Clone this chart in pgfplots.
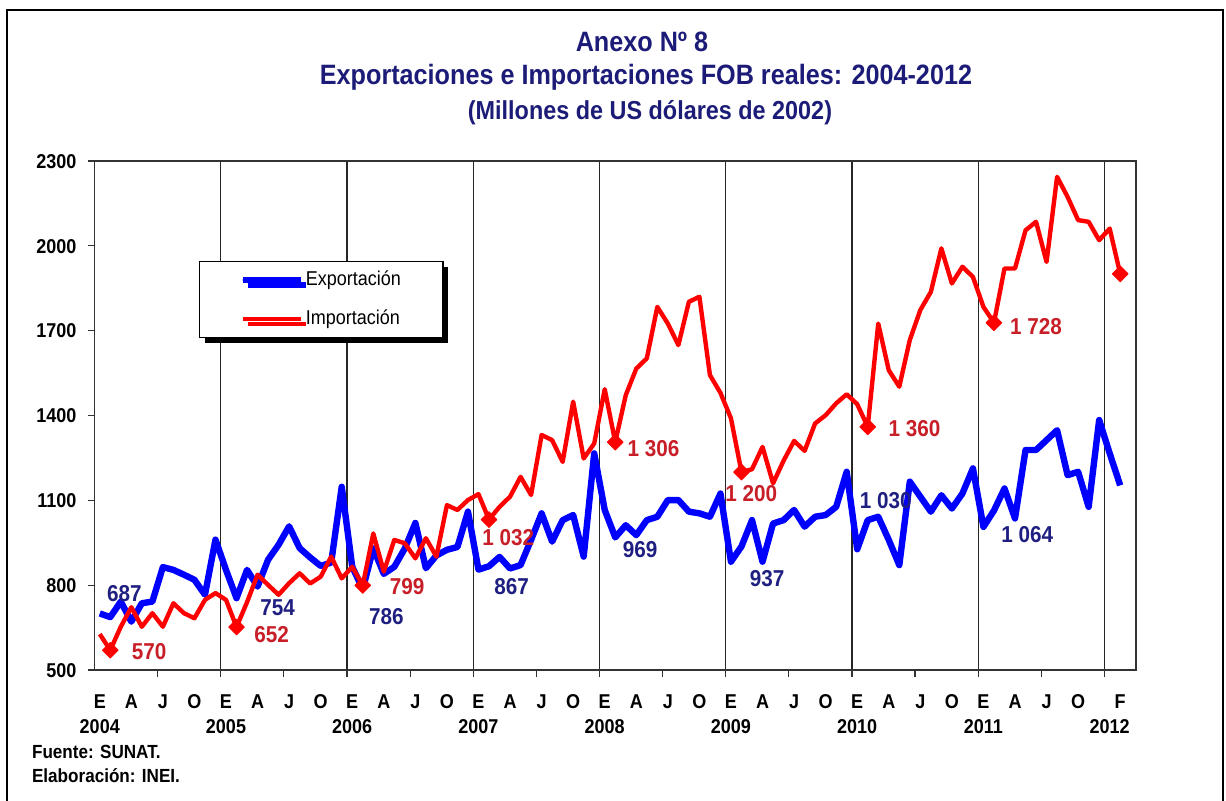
\documentclass[border=0pt]{standalone}
\usepackage{fontspec}
\setmainfont{Liberation Sans}[FakeStretch=0.9]
\usepackage{pgfplots}
\pgfplotsset{compat=1.18}
\usepackage{pgfplotstable}
\usetikzlibrary{shadows}

\definecolor{cExp}{RGB}{0,0,255}
\definecolor{cImp}{RGB}{255,0,0}
\definecolor{cTitle}{RGB}{28,28,120}
\definecolor{cLblE}{RGB}{31,31,130}
\definecolor{cLblI}{RGB}{200,30,40}

% m = mes (0 = enero 2004), exp / imp en millones de US$ de 2002
\pgfplotstableread{
m exp imp
0 700 627
1 687 570
2 742 653
3 671 722
4 736 653
5 742 701
6 864 653
7 854 736
8 837 701
9 819 683
10 766 748
11 961 772
12 854 748
13 754 652
14 854 740
15 795 837
16 890 801
17 943 766
18 1008 807
19 931 842
20 898 806
21 868 830
22 880 901
23 1148 824
24 865 865
25 786 799
26 930 983
27 840 848
28 865 960
29 930 948
30 1020 895
31 860 966
32 905 901
33 925 1083
34 935 1066
35 1060 1101
36 855 1122
37 867 1032
38 900 1077
39 859 1113
40 871 1183
41 960 1119
42 1054 1331
43 954 1313
44 1030 1236
45 1048 1449
46 901 1248
47 1266 1301
48 1066 1493
49 969 1306
50 1012 1472
51 977 1566
52 1030 1602
53 1042 1784
54 1101 1725
55 1101 1649
56 1060 1802
57 1054 1820
58 1042 1543
59 1124 1480
60 883 1390
61 937 1200
62 1030 1210
63 883 1289
64 1018 1160
65 1030 1240
66 1066 1310
67 1007 1275
68 1042 1372
69 1048 1401
70 1077 1443
71 1201 1475
72 927 1440
73 1030 1360
74 1042 1725
75 960 1560
76 871 1502
77 1166 1667
78 1113 1773
79 1060 1837
80 1118 1991
81 1071 1867
82 1124 1926
83 1213 1890
84 1006 1784
85 1064 1728
86 1142 1920
87 1036 1920
88 1278 2055
89 1278 2085
90 1313 1943
91 1348 2244
92 1189 2173
93 1201 2091
94 1077 2085
95 1384 2020
96 1266 2061
97 1153 1901
}\datos

\begin{document}
\begin{tikzpicture}
\useasboundingbox (0pt,0pt) rectangle (613pt,400pt);
\draw[line width=1pt] (3.5pt,-2pt) -- (3.5pt,395pt) -- (611.5pt,395pt) -- (611.5pt,-2pt);

\node[anchor=base,text=cTitle,font=\bfseries\fontsize{14}{16}\selectfont] at (321pt,374pt) {Anexo Nº 8};
\node[anchor=base,text=cTitle,font=\bfseries\fontsize{14}{16}\selectfont] at (323pt,357.5pt) {Exportaciones e Importaciones FOB reales: 2004-2012};
\node[anchor=base,text=cTitle,font=\bfseries\fontsize{13}{15}\selectfont] at (325pt,340.5pt) {(Millones de US dólares de 2002)};

\node[anchor=base west,font=\bfseries\fontsize{9.5}{11}\selectfont] at (12.5pt,21pt) {Fuente: SUNAT.};
\node[anchor=base west,font=\bfseries\fontsize{9.5}{11}\selectfont] at (12.5pt,9pt) {Elaboración: INEI.};

\begin{axis}[
    at={(47.25pt,65pt)}, anchor=south west,
    scale only axis,
    width=520.75pt, height=254.5pt,
    xmin=-0.5, xmax=98.5,
    ymin=500, ymax=2300,
    axis line style={black!80, line width=0.7pt},
    tick pos=left,
    tick align=outside,
    major tick length=3.5pt, minor tick length=3.5pt,
    tick style={black!80, line width=0.6pt},
    xtick={11.5,23.5,...,95.5}, xticklabels={},
    minor xtick={5.5,17.5,...,89.5},
    xmajorgrids,
    major grid style={black!85, line width=0.55pt},
    extra x ticks={0,3,...,93,96,97},
    extra x tick labels={{E\\2004},{A},{J},{O},{E\\2005},{A},{J},{O},{E\\2006},{A},{J},{O},{E\\2007},{A},{J},{O},{E\\2008},{A},{J},{O},{E\\2009},{A},{J},{O},{E\\2010},{A},{J},{O},{E\\2011},{A},{J},{O},{\phantom{E}\\2012},{F}},
    extra x tick style={major tick length=0pt, grid=none},
    xticklabel style={font=\bfseries\fontsize{10}{12.5}\selectfont, align=center, yshift=-7pt},
    typeset ticklabels with strut,
    ytick={500,800,...,2300},
    yticklabel style={font=\bfseries\fontsize{10}{12}\selectfont, xshift=-2pt, yshift=-1.2pt},
    /pgf/number format/.cd, set thousands separator={}, assume math mode=true, /pgfplots/.cd,
    legend cell align=left,
    legend image code/.code={\path (0pt,0pt) -- (29pt,0pt);\draw[#1,line cap=round] (1.5pt,0pt) -- (27pt,0pt);},
    legend style={at={(rel axis cs:0.1003,0.8035)}, anchor=north west,
        draw=black, line width=0.6pt, fill=white,
        drop shadow={shadow xshift=2.5pt, shadow yshift=-2.5pt, fill=black, opacity=1},
        inner xsep=20pt, inner ysep=3.5pt, row sep=8pt,
        font=\fontsize{10}{12}\selectfont,
        nodes={inner sep=1pt, text height=7.5pt, text depth=2pt}},
]
\addplot[cExp, line width=3.2pt, line join=round, no marks] table[x=m,y=exp]{\datos};
\addlegendentry{Exportación}
\addplot[cImp, line width=2.2pt, line join=round, mark=square*, mark size=2.8pt,
    mark indices={2,14,26,38,50,62,74,86,98},
    mark options={rotate=45, solid, fill=cImp, line width=0.4pt}] table[x=m,y=imp]{\datos};
\addlegendentry{Importación}

% etiquetas de febrero
\tikzset{lbl/.style={inner sep=0pt, font=\bfseries\fontsize{11.5}{13}\selectfont}}
\node[lbl,text=cLblI,xshift=19.4pt,yshift=-0.75pt] at (axis cs:1,570) {570};
\node[lbl,text=cLblI,xshift=17.6pt,yshift=-4pt] at (axis cs:13,652) {652};
\node[lbl,text=cLblI,xshift=22.2pt,yshift=-0.6pt] at (axis cs:25,799) {799};
\node[lbl,text=cLblI,xshift=9.6pt,yshift=-9pt] at (axis cs:37,1032) {1 032};
\node[lbl,text=cLblI,xshift=19.1pt,yshift=-3.1pt] at (axis cs:49,1306) {1 306};
\node[lbl,text=cLblI,xshift=4.9pt,yshift=-10.7pt] at (axis cs:61,1200) {1 200};
\node[lbl,text=cLblI,xshift=23.4pt,yshift=-0.75pt] at (axis cs:73,1360) {1 360};
\node[lbl,text=cLblI,xshift=21pt,yshift=-2pt] at (axis cs:85,1728) {1 728};
\node[lbl,text=cLblI,xshift=26.7pt,yshift=-0.6pt] at (axis cs:97,1901) {1 901};

\node[lbl,text=cLblE,xshift=7pt,yshift=11.9pt] at (axis cs:1,687) {687};
\node[lbl,text=cLblE,xshift=20.6pt,yshift=-4.6pt] at (axis cs:13,754) {754};
\node[lbl,text=cLblE,xshift=11.8pt,yshift=-13.8pt] at (axis cs:25,786) {786};
\node[lbl,text=cLblE,xshift=11.3pt,yshift=-10.2pt] at (axis cs:37,867) {867};
\node[lbl,text=cLblE,xshift=12.5pt,yshift=-6.3pt] at (axis cs:49,969) {969};
\node[lbl,text=cLblE,xshift=12.8pt,yshift=-16pt] at (axis cs:61,937) {937};
\node[lbl,text=cLblE,xshift=9pt,yshift=10pt] at (axis cs:73,1030) {1 030};
\node[lbl,text=cLblE,xshift=16.6pt,yshift=-12.2pt] at (axis cs:85,1064) {1 064};
\node[lbl,text=cLblE,xshift=27.1pt,yshift=-0.7pt] at (axis cs:97,1153) {1 153};
\end{axis}
\end{tikzpicture}
\end{document}
